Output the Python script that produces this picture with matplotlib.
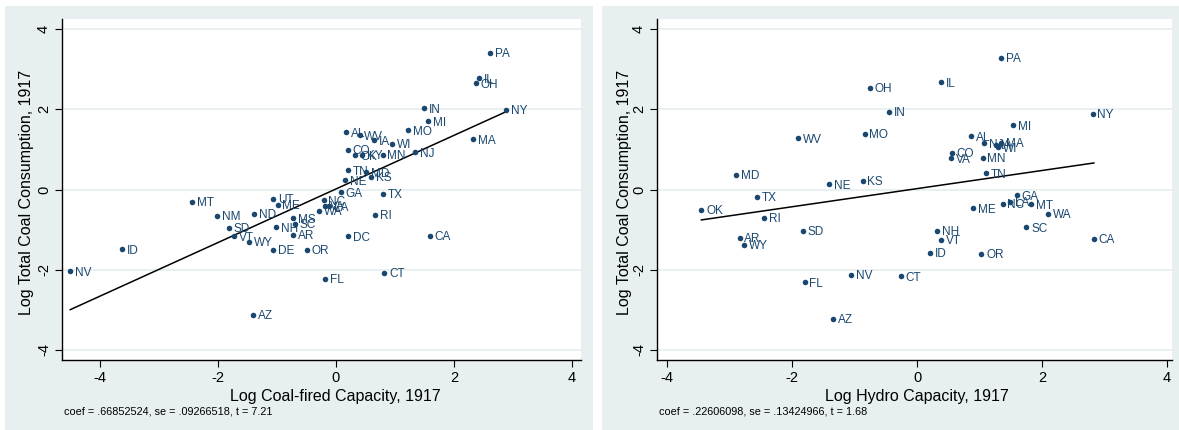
import numpy as np
import matplotlib.pyplot as plt
from matplotlib.patches import Rectangle

plt.rcParams['font.family'] = ['Liberation Sans', 'DejaVu Sans']
plt.rcParams['axes.unicode_minus'] = False

# log coal-fired capacity vs log coal consumption, 1917
coal_states = ['PA', 'IL', 'OH', 'IN', 'NY', 'MI', 'MO', 'AL', 'WV', 'IA', 'WI', 'MA',
               'CO', 'OK', 'KY', 'MN', 'NJ', 'TN', 'MD', 'KS', 'NE', 'GA', 'TX', 'NC',
               'VA', 'LA', 'WA', 'RI', 'MT', 'UT', 'ME', 'NM', 'ND', 'MS', 'SD', 'NH',
               'SC', 'VT', 'AR', 'DC', 'WY', 'ID', 'DE', 'OR', 'NV', 'CT', 'FL', 'AZ', 'CA']
coal_cap = [2.61, 2.42, 2.37, 1.49, 2.88, 1.56, 1.22, 0.17, 0.40, 0.65, 0.95, 2.32,
            0.20, 0.33, 0.44, 0.79, 1.34, 0.21, 0.51, 0.59, 0.15, 0.08, 0.79, -0.21,
            -0.18, -0.11, -0.29, 0.66, -2.44, -1.06, -0.99, -2.01, -1.38, -0.72, -1.81, -1.01,
            -0.70, -1.73, -0.72, 0.20, -1.47, -3.62, -1.07, -0.49, -4.50, 0.82, -0.19, -1.40, 1.59]
coal_use = [3.40, 2.77, 2.65, 2.02, 1.99, 1.70, 1.48, 1.43, 1.35, 1.23, 1.14, 1.25,
            0.99, 0.85, 0.86, 0.87, 0.93, 0.48, 0.43, 0.31, 0.23, -0.07, -0.10, -0.27,
            -0.40, -0.42, -0.53, -0.63, -0.30, -0.23, -0.38, -0.65, -0.61, -0.72, -0.96, -0.94,
            -0.85, -1.17, -1.13, -1.17, -1.31, -1.49, -1.50, -1.51, -2.04, -2.07, -2.22, -3.12, -1.15]
coal_coef, coal_se, coal_t = .66852524, .09266518, 7.21

# log hydro capacity vs log coal consumption, 1917
hydro_states = ['OK', 'MD', 'TX', 'RI', 'AR', 'WY', 'SD', 'FL', 'NV', 'CT', 'AZ', 'WV',
                'NE', 'KS', 'MO', 'OH', 'IN', 'IL', 'PA', 'NY', 'MI', 'AL', 'NJ', 'IA',
                'MA', 'WI', 'CO', 'VA', 'MN', 'TN', 'GA', 'NC', 'LA', 'MT', 'ME', 'WA',
                'SC', 'NH', 'VT', 'ID', 'OR', 'CA']
hydro_cap = [-3.45, -2.89, -2.56, -2.45, -2.84, -2.77, -1.83, -1.80, -1.05, -0.26, -1.35, -1.90,
             -1.41, -0.87, -0.84, -0.75, -0.45, 0.38, 1.35, 2.81, 1.54, 0.86, 1.07, 1.27,
             1.35, 1.30, 0.56, 0.54, 1.05, 1.11, 1.60, 1.37, 1.49, 1.82, 0.90, 2.09,
             1.75, 0.32, 0.39, 0.21, 1.03, 2.83]
hydro_use = [-0.50, 0.36, -0.18, -0.71, -1.21, -1.38, -1.03, -2.31, -2.13, -2.16, -3.22, 1.28,
             0.13, 0.22, 1.39, 2.54, 1.93, 2.67, 3.29, 1.88, 1.60, 1.33, 1.15, 1.12,
             1.16, 1.05, 0.91, 0.78, 0.79, 0.40, -0.14, -0.36, -0.31, -0.37, -0.47, -0.60,
             -0.94, -1.03, -1.26, -1.58, -1.61, -1.23]
hydro_coef, hydro_se, hydro_t = .22606098, .13424966, 1.68

navy = '#1a476f'
bg = '#e8eff1'

fig = plt.figure(figsize=(11.79, 4.30), dpi=100)
W, H = 1179, 430

# panel backgrounds
fig.patches.append(Rectangle((5 / W, 0), 588 / W, 424 / H, transform=fig.transFigure,
                             facecolor=bg, edgecolor='none', zorder=-10))
fig.patches.append(Rectangle((602 / W, 0), 577 / W, 424 / H, transform=fig.transFigure,
                             facecolor=bg, edgecolor='none', zorder=-10))


def panel(left, right, xs, ys, names, coef, se, t, xlim, xtitle, xtitle_x, ytitle_x):
    ax = fig.add_axes([left / W, 1 - 360 / H, (right - left) / W, 341 / H])
    ax.set_facecolor('white')
    ax.set_xlim(*xlim)
    ax.set_ylim(-4.25, 4.25)
    ax.set_xticks([-4, -2, 0, 2, 4])
    ax.set_yticks([-4, -2, 0, 2, 4])
    for yv in [-4, -2, 0, 2, 4]:
        ax.axhline(yv, color='#e4eef0', lw=1.2, zorder=0)
    for s in ['top', 'right']:
        ax.spines[s].set_visible(False)
    for s in ['left', 'bottom']:
        ax.spines[s].set_color('black')
        ax.spines[s].set_linewidth(1.0)
    ax.tick_params(length=5, width=0.8, labelsize=10.5, colors='black', pad=3)
    plt.setp(ax.get_yticklabels(), rotation=90, va='center')

    xs = np.array(xs)
    ys = np.array(ys)
    ax.scatter(xs, ys, s=16, color=navy, zorder=3, linewidths=0)
    for n, x, y in zip(names, xs, ys):
        ax.annotate(n, (x, y), xytext=(3.5, -1), textcoords='offset points',
                    va='center', ha='left', fontsize=8.5, color=navy, zorder=4)

    # fitted line with the reported slope through the means
    b0 = ys.mean() - coef * xs.mean()
    lx = np.array([xs.min(), xs.max()])
    ax.plot(lx, b0 + coef * lx, color='black', lw=1.1, zorder=2)

    fig.text(xtitle_x / W, 1 - 396 / H, xtitle, ha='center', va='center', fontsize=11.5)
    fig.text(ytitle_x / W, 1 - 192 / H, 'Log Total Coal Consumption, 1917', rotation=90,
             ha='center', va='center', fontsize=11.5)
    note = 'coef = %s, se = %s, t = %.2f' % (('%.8f' % coef)[1:], ('%.8f' % se)[1:], t)
    fig.text((left + 2) / W, 1 - 412 / H, note, ha='left', va='center', fontsize=7.8)
    return ax


panel(62, 581, coal_cap, coal_use, coal_states, coal_coef, coal_se, coal_t,
      (-4.64, 4.15), 'Log Coal-fired Capacity, 1917', 335, 27)
panel(657, 1172, hydro_cap, hydro_use, hydro_states, hydro_coef, hydro_se, hydro_t,
      (-4.16, 4.08), 'Log Hydro Capacity, 1917', 917, 624)

fig.savefig('out.png', dpi=100)
